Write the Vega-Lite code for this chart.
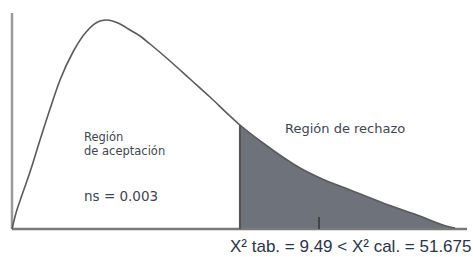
{
  "$schema": "https://vega.github.io/schema/vega-lite/v6.json",
  "width": 473,
  "height": 257,
  "autosize": {"type": "fit", "contains": "padding"},
  "padding": 0,
  "background": "white",
  "config": {"view": {"stroke": null}},
  "datasets": {
    "curve": [
      {"x": 0, "y": 0},
      {"x": 0.166, "y": 0.016},
      {"x": 0.416, "y": 0.034},
      {"x": 0.749, "y": 0.057},
      {"x": 1.165, "y": 0.089},
      {"x": 1.582, "y": 0.120},
      {"x": 1.998, "y": 0.149},
      {"x": 2.539, "y": 0.177},
      {"x": 3.122, "y": 0.198},
      {"x": 3.663, "y": 0.208},
      {"x": 3.954, "y": 0.209},
      {"x": 4.412, "y": 0.206},
      {"x": 4.912, "y": 0.199},
      {"x": 5.328, "y": 0.193},
      {"x": 5.744, "y": 0.185},
      {"x": 6.576, "y": 0.168},
      {"x": 7.409, "y": 0.150},
      {"x": 8.241, "y": 0.132},
      {"x": 9.074, "y": 0.113},
      {"x": 9.49, "y": 0.104},
      {"x": 10.447, "y": 0.086},
      {"x": 11.987, "y": 0.061},
      {"x": 12.82, "y": 0.051},
      {"x": 14.069, "y": 0.039},
      {"x": 15.442, "y": 0.026},
      {"x": 16.857, "y": 0.014},
      {"x": 18.231, "y": 0.002},
      {"x": 18.439, "y": 0.001}
    ],
    "segments": [
      {"kind": "yaxis", "x": 0, "x2": 0, "y": 0, "y2": 0.216},
      {"kind": "xaxis", "x": 0, "x2": 18.94, "y": 0, "y2": 0},
      {"kind": "critical", "x": 9.49, "x2": 9.49, "y": 0, "y2": 0.104},
      {"kind": "tick", "x": 12.778, "x2": 12.778, "y": 0, "y2": 0.012}
    ],
    "labels": [
      {"label": "Región", "x": 2.997, "y": 0.088, "size": 11.5},
      {"label": "de aceptación", "x": 2.997, "y": 0.074, "size": 11.5},
      {"label": "ns = 0.003", "x": 2.997, "y": 0.028, "size": 13.5},
      {"label": "Región de rechazo", "x": 11.363, "y": 0.096, "size": 13}
    ],
    "bottom": [
      {"label": "X² tab. = 9.49 < X² cal. = 51.675", "x": 9.074, "y": -0.023}
    ]
  },
  "layer": [
    {
      "data": {"name": "curve"},
      "transform": [{"filter": "datum.x >= 9.49"}],
      "mark": {"type": "area", "color": "#6d727b", "opacity": 1, "interpolate": "monotone"},
      "encoding": {
        "x": {"field": "x", "type": "quantitative", "scale": {"domain": [-0.4995, 19.188], "nice": false, "zero": false}, "axis": null},
        "y": {"field": "y", "type": "quantitative", "scale": {"domain": [-0.028, 0.229], "nice": false, "zero": false}, "axis": null}
      }
    },
    {
      "data": {"name": "segments"},
      "mark": {"type": "rule"},
      "encoding": {
        "x": {"field": "x", "type": "quantitative"},
        "x2": {"field": "x2"},
        "y": {"field": "y", "type": "quantitative"},
        "y2": {"field": "y2"},
        "color": {
          "field": "kind", "type": "nominal", "legend": null,
          "scale": {"domain": ["yaxis", "xaxis", "critical", "tick"], "range": ["#9a9a9a", "#7a7a7a", "#555555", "#444444"]}
        },
        "strokeWidth": {
          "field": "kind", "type": "nominal", "legend": null,
          "scale": {"domain": ["yaxis", "xaxis", "critical", "tick"], "range": [2.5, 2, 1.5, 1.5]}
        }
      }
    },
    {
      "data": {"name": "curve"},
      "mark": {"type": "line", "color": "#5a5a5a", "strokeWidth": 1.6, "interpolate": "monotone"},
      "encoding": {
        "x": {"field": "x", "type": "quantitative"},
        "y": {"field": "y", "type": "quantitative"}
      }
    },
    {
      "data": {"name": "labels"},
      "mark": {"type": "text", "align": "left", "baseline": "alphabetic", "color": "#3f4553", "font": "DejaVu Sans"},
      "encoding": {
        "x": {"field": "x", "type": "quantitative"},
        "y": {"field": "y", "type": "quantitative"},
        "text": {"field": "label"},
        "size": {"field": "size", "type": "quantitative", "scale": null, "legend": null}
      }
    },
    {
      "data": {"name": "bottom"},
      "mark": {"type": "text", "align": "left", "baseline": "alphabetic", "color": "#2c3447", "font": "Liberation Sans", "fontSize": 17},
      "encoding": {
        "x": {"field": "x", "type": "quantitative"},
        "y": {"field": "y", "type": "quantitative"},
        "text": {"field": "label"}
      }
    }
  ]
}
